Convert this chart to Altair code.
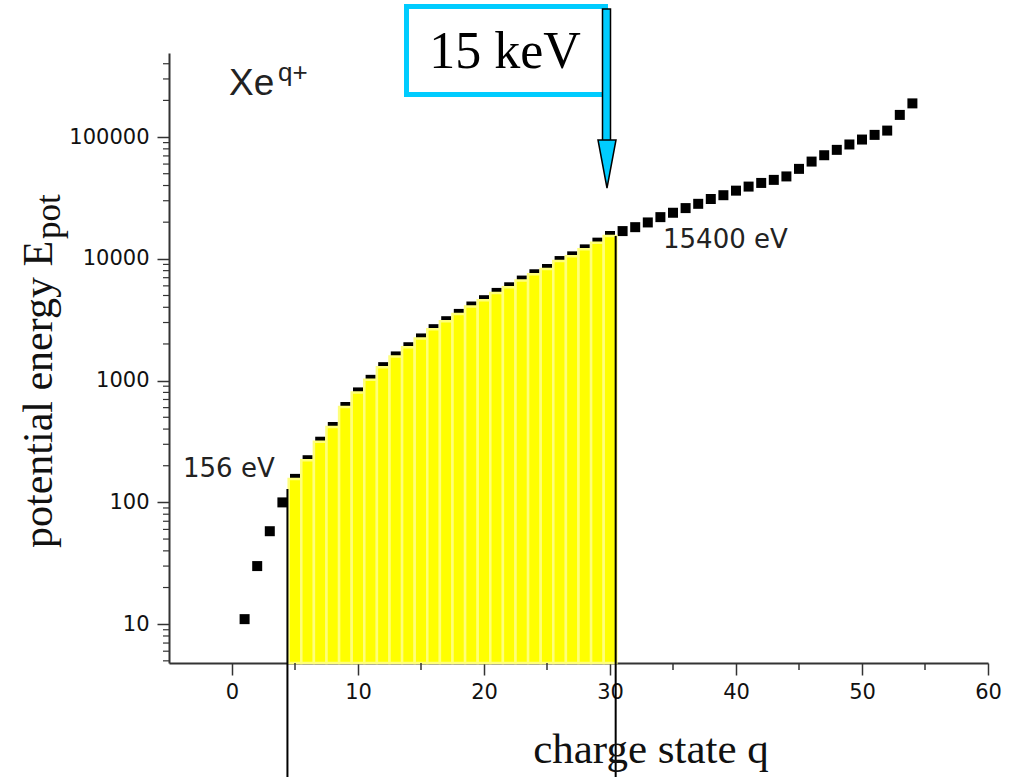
import altair as alt
import pandas as pd

# Cumulative ionisation energy of xenon versus charge state
charge = list(range(1, 55))
energy = [11, 30, 58, 100, 156, 222, 315, 416, 607, 800,
          1015, 1290, 1580, 1880, 2220, 2645, 3075, 3530, 4060, 4575,
          5250, 5840, 6630, 7470, 8250, 9590, 10480, 11960, 13580, 15400,
          16900, 18200, 19900, 22000, 23900, 26100, 28300, 31000, 33300, 36300,
          39200, 42000, 44500, 47500, 54800, 62900, 70900, 78500, 86900, 95400,
          104200, 113000, 152000, 189000]

# shaded range of charge states and the two marker lines bounding it
fill_first, fill_last = 5, 30
marker_q = [4.4, 30.45]
marker_top = [129, 15400]

x_major = [0, 10, 20, 30, 40, 50, 60]
x_minor = [5, 15, 25, 35, 45, 55]
y_major = [10, 100, 1000, 10000, 100000]
y_minor = [5, 6, 7, 8, 9, 20, 30, 40, 50, 60, 70, 80, 90,
           200, 300, 400, 500, 600, 700, 800, 900,
           2000, 3000, 4000, 5000, 6000, 7000, 8000, 9000,
           20000, 30000, 40000, 50000, 60000, 70000, 80000, 90000,
           200000, 300000, 400000]

X_DOMAIN = [-5, 60]
Y_DOMAIN = [4.8, 490000]

W, H = 819, 610
LEFT, TOP = 169, 53

df = pd.DataFrame({"q": charge, "E": energy})
markers = pd.DataFrame({"q": marker_q, "top": marker_top})

xs = alt.Scale(domain=X_DOMAIN, nice=False, zero=False)
ys = alt.Scale(type="log", domain=Y_DOMAIN, nice=False)

AX = dict(domainColor="#333", domainWidth=2, tickColor="#333", tickWidth=1.5,
          labelFont="DejaVu Sans", labelFontSize=21, labelColor="#111",
          grid=False, title=None, labelFlush=False, labelOverlap=False)

# one shared axis definition per channel, used by every layer
x_axis = alt.Axis(values=x_major, tickSize=12, labelPadding=6, format="d", **AX)
y_axis = alt.Axis(values=y_major, tickSize=12, labelPadding=8, format="d", **AX)

points = alt.Chart(df).mark_square(size=100, color="black", opacity=1).encode(
    x=alt.X("q:Q", scale=xs, axis=x_axis),
    y=alt.Y("E:Q", scale=ys, axis=y_axis),
)

bars = alt.Chart(df).transform_filter(
    (alt.datum.q >= fill_first) & (alt.datum.q <= fill_last)
).transform_calculate(
    lo="datum.q - 0.5", hi="datum.q + 0.5", base=str(Y_DOMAIN[0])
).mark_rect(fill="#FFFF00", stroke="#FFFF7A", strokeWidth=2.5).encode(
    x=alt.X("lo:Q", scale=xs, axis=x_axis),
    x2="hi:Q",
    y=alt.Y("E:Q", scale=ys, axis=y_axis),
    y2="base:Q",
)

# minor tick marks along both axes
y_minor_ticks = alt.Chart(pd.DataFrame({"v": y_minor})).mark_rule(
    color="#333", strokeWidth=1.2
).encode(y=alt.Y("v:Q", scale=ys, axis=y_axis), x=alt.value(0), x2=alt.value(-6))

x_minor_ticks = alt.Chart(pd.DataFrame({"v": x_minor})).mark_rule(
    color="#333", strokeWidth=1.5
).encode(x=alt.X("v:Q", scale=xs, axis=x_axis), y=alt.value(H), y2=alt.value(H + 7))

rules = alt.Chart(markers).mark_rule(color="black", strokeWidth=2).encode(
    x=alt.X("q:Q", scale=xs, axis=x_axis),
    y=alt.Y("top:Q", scale=ys, axis=y_axis),
    y2=alt.value(777 - TOP),
)

one = alt.Data(values=[{}])


def label(txt, px, py, size, font, align="left", angle=0, color="#222"):
    return alt.Chart(one).mark_text(
        text=txt, font=font, fontSize=size, align=align, baseline="alphabetic",
        angle=angle, color=color,
    ).encode(x=alt.value(px - LEFT), y=alt.value(py - TOP))


box = alt.Chart(one).mark_rect(fill="white", stroke="#00CCFF", strokeWidth=5).encode(
    x=alt.value(406.5 - LEFT), x2=alt.value(605.5 - LEFT),
    y=alt.value(6.5 - TOP), y2=alt.value(94.5 - TOP),
)
shaft = alt.Chart(one).mark_rect(fill="#00CCFF", stroke="black", strokeWidth=1.5).encode(
    x=alt.value(602.5 - LEFT), x2=alt.value(610.5 - LEFT),
    y=alt.value(9 - TOP), y2=alt.value(141 - TOP),
)
head = alt.Chart(one).mark_point(
    shape="M-0.375,-1L0.375,-1L0,1Z", size=48 * 48, filled=True,
    fill="#00CCFF", stroke="black", strokeWidth=1.5, opacity=1,
).encode(x=alt.value(607 - LEFT), y=alt.value(164 - TOP))

texts = [
    label("potential energy E", 52, 548, 42, "Liberation Serif", angle=270, color="#111"),
    label("pot", 60, 239, 35, "Liberation Serif", angle=270, color="#111"),
    label("charge state q", 651, 763, 43, "Liberation Serif", align="center", color="#111"),
    label("Xe", 229, 95, 37, "Liberation Sans"),
    label("q+", 278, 81, 26, "Liberation Sans"),
    label("156 eV", 183, 477, 26, "DejaVu Sans"),
    label("15400 eV", 663, 248, 26, "DejaVu Sans"),
    label("15 keV", 505, 68, 52, "Liberation Serif", align="center", color="black"),
]

chart = alt.layer(
    points, bars, y_minor_ticks, x_minor_ticks, rules, box, shaft, head, *texts
).properties(
    width=W, height=H,
    autosize=alt.AutoSizeParams(type="none"),
    padding={"left": LEFT, "top": TOP, "right": 1019 - LEFT - W, "bottom": 777 - TOP - H},
    background="white",
).configure_view(stroke=None)

chart.save("out.html", embed_options={"renderer": "svg", "actions": False})
